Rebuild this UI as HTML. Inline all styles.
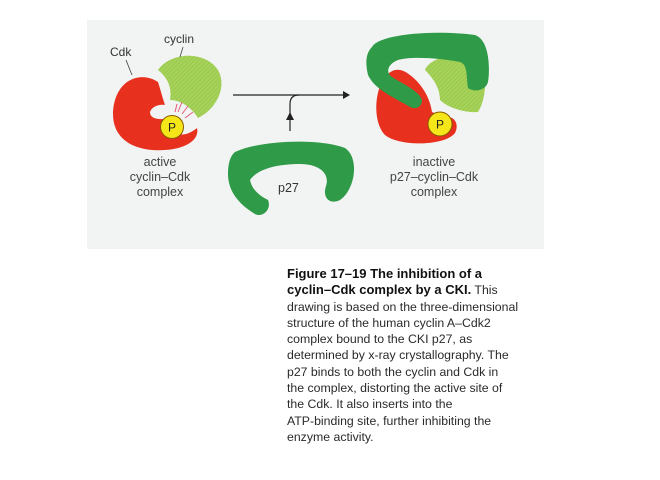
<!DOCTYPE html>
<html><head><meta charset="utf-8"><style>
html,body{margin:0;padding:0;background:#fff;width:660px;height:480px;overflow:hidden}
.cap{position:absolute;left:287px;top:266px;font-family:"Liberation Sans",sans-serif;font-size:12.3px;line-height:16.3px;color:#2a2a2a;white-space:nowrap}
.cap b{font-size:13px;color:#111}
</style></head><body>
<svg width="660" height="480" style="position:absolute;left:0;top:0" font-family="Liberation Sans, sans-serif">
<defs>
<pattern id="h" width="3" height="3" patternUnits="userSpaceOnUse" patternTransform="rotate(45)">
<rect width="3" height="3" fill="#a6d25a"/><line x1="0" y1="0" x2="0" y2="3" stroke="#8fc044" stroke-width="1"/></pattern>
</defs>
<rect x="87" y="20" width="457" height="229" fill="#f2f4f3"/>
<!-- left complex -->
<path d="M158 82 C140 70 115 80 113 112 C112 140 135 152 165 150 C185 149 200 140 197 128 C192 132 185 136 178 134 L170 118 C162 120 150 120 150 112 C152 106 160 104 165 105 C162 96 160 88 158 82 Z" fill="#e8301f"/>
<path d="M158 70 C170 52 205 50 218 70 C228 88 215 110 198 118 C190 105 178 100 170 100 C172 88 168 78 158 70 Z" fill="url(#h)"/>
<g stroke="#e65a7a" stroke-width="1"><line x1="178" y1="112" x2="182" y2="102"/><line x1="182" y1="114" x2="188" y2="106"/><line x1="185" y1="118" x2="193" y2="112"/><line x1="175" y1="112" x2="177" y2="104"/></g>
<circle cx="172" cy="127" r="11.5" fill="#f5e61a" stroke="#8a5a00" stroke-width="1"/>
<text x="172" y="131.5" font-size="12" text-anchor="middle" fill="#222">P</text>
<text x="110" y="56" font-size="12" fill="#333">Cdk</text>
<text x="164" y="43" font-size="12" fill="#333">cyclin</text>
<line x1="126" y1="60" x2="132" y2="75" stroke="#444" stroke-width="0.8"/>
<line x1="183" y1="47" x2="180" y2="57" stroke="#444" stroke-width="0.8"/>
<g font-size="12.5" fill="#444" text-anchor="middle"><text x="160" y="166">active</text><text x="160" y="181">cyclin–Cdk</text><text x="160" y="196">complex</text></g>
<!-- arrows -->
<line x1="233" y1="95" x2="343" y2="95" stroke="#222" stroke-width="1.2"/>
<path d="M343 91 L350 95 L343 99 Z" fill="#222"/>
<path d="M290 131 L290 104 Q290 95 299 95" fill="none" stroke="#222" stroke-width="1.2"/>
<path d="M286 120 L290 112 L294 120 Z" fill="#222"/>
<!-- p27 -->
<path d="M235 152 C260 140 320 138 345 148 C360 158 355 190 340 200 C330 205 322 198 326 186 C330 174 320 164 300 164 C280 164 258 168 250 180 C252 190 260 196 268 200 C272 210 262 218 255 214 C240 205 228 192 228 174 C228 164 230 156 235 152 Z" fill="#2f9a48"/>
<text x="278" y="192" font-size="12.5" fill="#333">p27</text>
<!-- right complex -->
<path d="M395 70 C375 75 370 120 385 135 C400 147 445 146 455 133 C460 123 453 115 446 118 L432 112 C430 98 422 84 410 75 C405 71 400 69 395 70 Z" fill="#e8301f"/>
<path d="M425 70 C430 55 470 50 480 60 C488 75 486 100 478 112 C465 113 448 108 440 100 C440 88 433 78 425 70 Z" fill="url(#h)"/>
<path d="M372 47 C380 33 440 30 475 35 C490 40 490 70 488 82 C486 90 475 93 468 88 C466 75 468 65 460 62 C440 58 410 56 398 60 C388 64 385 72 392 77 C405 85 420 92 422 100 C422 107 416 110 410 107 C395 98 375 90 368 75 C365 62 366 53 372 47 Z" fill="#2f9a48"/>
<circle cx="440" cy="124" r="12" fill="#f5e61a" stroke="#8a5a00" stroke-width="1"/>
<text x="440" y="128.5" font-size="12" text-anchor="middle" fill="#222">P</text>
<g font-size="12.5" fill="#444" text-anchor="middle"><text x="434" y="166">inactive</text><text x="434" y="181">p27–cyclin–Cdk</text><text x="434" y="196">complex</text></g>
</svg>
<div class="cap"><b>Figure 17–19 The inhibition of a<br>cyclin–Cdk complex by a CKI.</b> This<br>drawing is based on the three-dimensional<br>structure of the human cyclin A–Cdk2<br>complex bound to the CKI p27, as<br>determined by x-ray crystallography. The<br>p27 binds to both the cyclin and Cdk in<br>the complex, distorting the active site of<br>the Cdk. It also inserts into the<br>ATP-binding site, further inhibiting the<br>enzyme activity.</div>
</body></html>
